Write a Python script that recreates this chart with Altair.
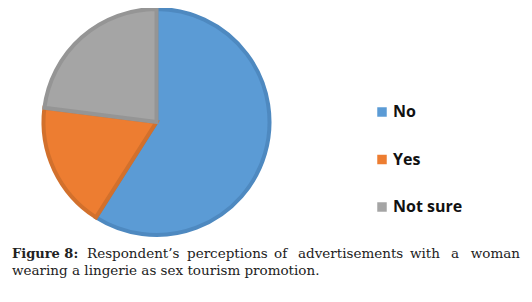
import altair as alt
import pandas as pd

categories = ["No", "Yes", "Not sure"]
shares = [59, 18, 23]
fills = ["#5B9BD5", "#ED7D31", "#A5A5A5"]
strokes = ["#4E89C0", "#D2702C", "#959595"]

caption_bold = "Figure 8:"
caption_line1 = ["Respondent\u2019s", "perceptions", "of", "advertisements", "with", "a", "woman"]
caption_line2 = "wearing a lingerie as sex tourism promotion."

df = pd.DataFrame({"cat": categories, "share": shares, "order": list(range(len(categories)))})

color_fill = alt.Scale(domain=categories, range=fills)
color_stroke = alt.Scale(domain=categories, range=strokes)

pie = alt.Chart(df).mark_arc(outerRadius=113, strokeWidth=4).encode(
    theta=alt.Theta("share:Q", stack=True),
    order=alt.Order("order:Q"),
    fill=alt.Fill("cat:N", scale=color_fill, legend=None),
    stroke=alt.Stroke("cat:N", scale=color_stroke, legend=None),
    x=alt.value(148.5),
    y=alt.value(114),
)

ly = alt.Y("cat:N", scale=alt.Scale(domain=categories, range=[104, 199], type="point", padding=0), axis=None)

leg_sq = alt.Chart(df).mark_square(size=90, opacity=1).encode(
    x=alt.value(374),
    y=ly,
    fill=alt.Fill("cat:N", scale=color_fill, legend=None),
)
leg_tx = alt.Chart(df).mark_text(
    align="left", baseline="middle", font="Open Sans", fontWeight="bold", fontSize=16, color="#111"
).encode(
    x=alt.value(385),
    y=ly,
    text="cat:N",
)

layers = [pie, leg_sq, leg_tx]

cap_y1 = 250
cap_y2 = 267
serif = "DejaVu Serif"
fs = 13.5
layers.append(
    alt.Chart(pd.DataFrame({"t": [caption_bold]})).mark_text(
        align="left", baseline="alphabetic", font=serif, fontWeight="bold", fontSize=13, color="#222"
    ).encode(x=alt.value(4), y=alt.value(cap_y1), text="t:N")
)
word_x = [79, 179, 266, 290, 402, 443, 512]
for w, xx in zip(caption_line1, word_x):
    align = "right" if w == caption_line1[-1] else "left"
    layers.append(
        alt.Chart(pd.DataFrame({"t": [w]})).mark_text(
            align=align, baseline="alphabetic", font=serif, fontSize=fs, color="#222"
        ).encode(x=alt.value(xx), y=alt.value(cap_y1), text="t:N")
    )
layers.append(
    alt.Chart(pd.DataFrame({"t": [caption_line2]})).mark_text(
        align="left", baseline="alphabetic", font=serif, fontSize=fs, color="#222"
    ).encode(x=alt.value(4), y=alt.value(cap_y2), text="t:N")
)

chart = alt.layer(*layers).properties(
    width=516, height=286, autosize=alt.AutoSizeParams(type="none"), padding=0
).configure_view(stroke=None)

chart.save("out.html", embed_options={"renderer": "svg", "actions": False})
